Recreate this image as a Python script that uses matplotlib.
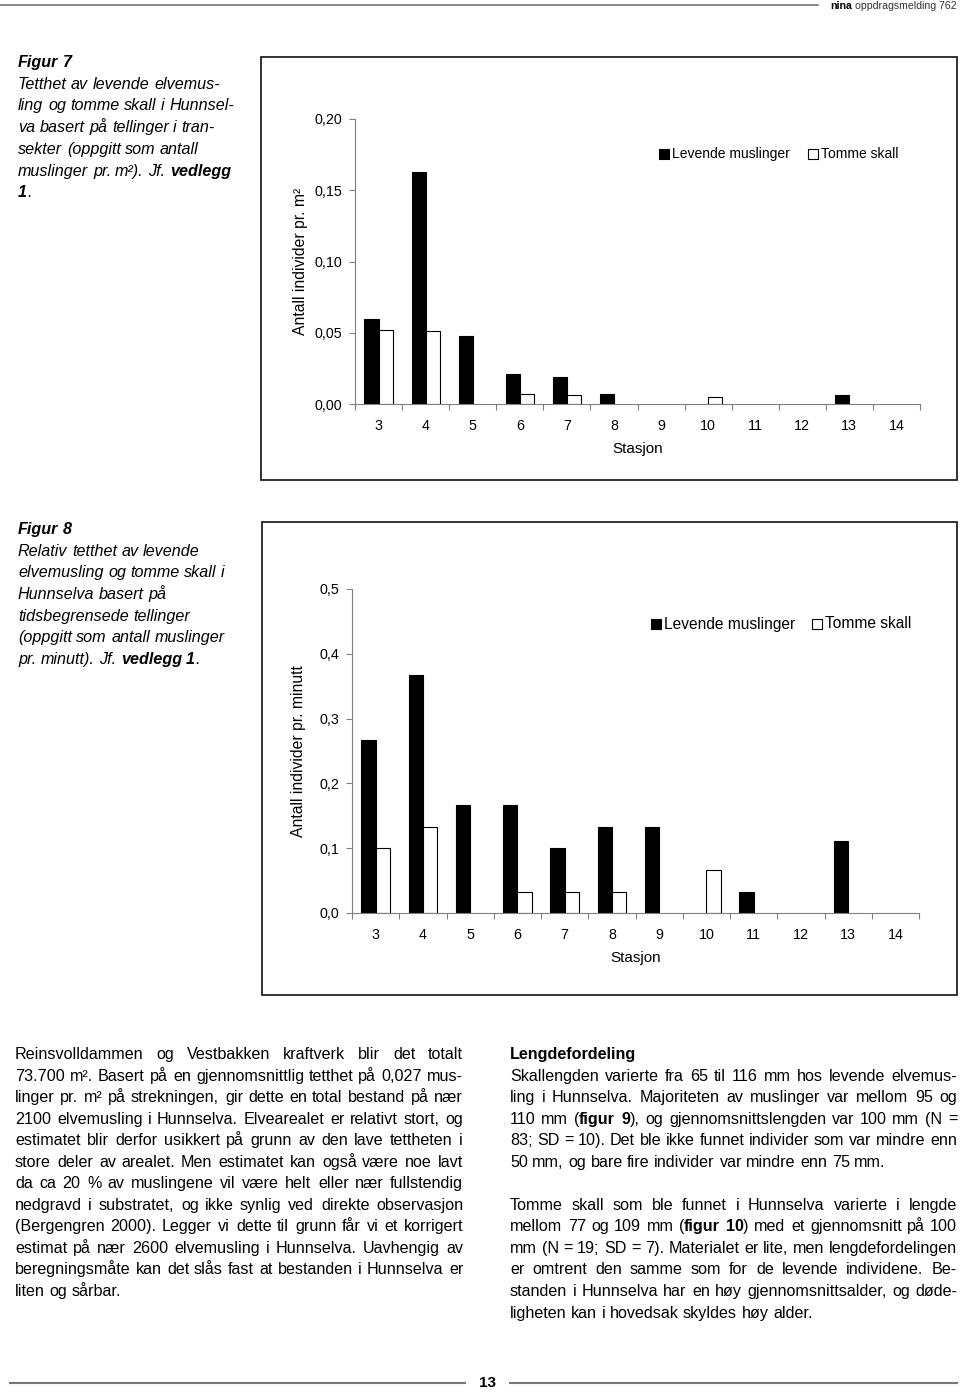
import matplotlib
matplotlib.use("Agg")
import matplotlib.pyplot as plt
from matplotlib.patches import Rectangle
from matplotlib.lines import Line2D
import numpy as np

plt.rcParams['font.family'] = ['Liberation Sans', 'DejaVu Sans']
plt.rcParams['text.hinting'] = 'auto'

W, H = 960, 1392

# data
stasjoner = [3, 4, 5, 6, 7, 8, 9, 10, 11, 12, 13, 14]
levende_m2 = [0.060, 0.163, 0.048, 0.021, 0.019, 0.007, 0, 0, 0, 0, 0.006, 0]
tomme_m2 = [0.052, 0.051, 0, 0.007, 0.006, 0, 0, 0.005, 0, 0, 0, 0]
levende_min = [0.267, 0.367, 0.167, 0.167, 0.100, 0.133, 0.133, 0, 0.033, 0, 0.111, 0]
tomme_min = [0.100, 0.133, 0, 0.033, 0.033, 0.033, 0, 0.067, 0, 0, 0, 0]
yticks_m2 = [0, 0.05, 0.10, 0.15, 0.20]
yticks_min = [0, 0.1, 0.2, 0.3, 0.4, 0.5]
legend_labels = ["Levende muslinger", "Tomme skall"]

caption7 = ["*Figur 7*",
            "Tetthet av levende elvemus-",
            "ling og tomme skall i Hunnsel-",
            "va basert på tellinger i tran-",
            "sekter (oppgitt som antall",
            "muslinger pr. m²). Jf. *vedlegg*",
            "*1*."]
caption8 = ["*Figur 8*",
            "Relativ tetthet av levende",
            "elvemusling og tomme skall i",
            "Hunnselva basert på",
            "tidsbegrensede tellinger",
            "(oppgitt som antall muslinger",
            "pr. minutt). Jf. *vedlegg 1*."]

left_col = ["Reinsvolldammen og Vestbakken kraftverk blir det totalt",
            "73.700 m². Basert på en gjennomsnittlig tetthet på 0,027 mus-",
            "linger pr. m² på strekningen, gir dette en total bestand på nær",
            "2100 elvemusling i Hunnselva. Elvearealet er relativt stort, og",
            "estimatet blir derfor usikkert på grunn av den lave tettheten i",
            "store deler av arealet. Men estimatet kan også være noe lavt",
            "da ca 20 % av muslingene vil være helt eller nær fullstendig",
            "nedgravd i substratet, og ikke synlig ved direkte observasjon",
            "(Bergengren 2000). Legger vi dette til grunn får vi et korrigert",
            "estimat på nær 2600 elvemusling i Hunnselva. Uavhengig av",
            "beregningsmåte kan det slås fast at bestanden i Hunnselva er",
            "liten og sårbar."]
right_col = ["*Lengdefordeling*",
             "Skallengden varierte fra 65 til 116 mm hos levende elvemus-",
             "ling i Hunnselva. Majoriteten av muslinger var mellom 95 og",
             "110 mm (*figur 9*), og gjennomsnittslengden var 100 mm (N =",
             "83; SD = 10). Det ble ikke funnet individer som var mindre enn",
             "50 mm, og bare fire individer var mindre enn 75 mm.",
             "",
             "Tomme skall som ble funnet i Hunnselva varierte i lengde",
             "mellom 77 og 109 mm (*figur 10*) med et gjennomsnitt på 100",
             "mm (N = 19; SD = 7). Materialet er lite, men lengdefordelingen",
             "er omtrent den samme som for de levende individene. Be-",
             "standen i Hunnselva har en høy gjennomsnittsalder, og døde-",
             "ligheten kan i hovedsak skyldes høy alder."]

fig = plt.figure(figsize=(W / 100, H / 100), dpi=100)
renderer = fig.canvas.get_renderer()


def fx(x):
    return x / W


def fy(y):
    return 1 - y / H


def split_pieces(word, bold):
    pieces, cur = [], ''
    for ch in word:
        if ch == '*':
            if cur:
                pieces.append((cur, bold))
            cur = ''
            bold = not bold
        else:
            cur += ch
    if cur:
        pieces.append((cur, bold))
    return pieces, bold


def text_line(x0, x1, y, line, size, justify, style='normal'):
    # y is the baseline in pixels from the top
    if not line:
        return
    bold = False
    words = []
    for w in line.split(' '):
        pieces, bold = split_pieces(w, bold)
        arts = []
        for s, b in pieces:
            t = fig.text(0, 0, s, fontsize=size, style=style,
                         weight='bold' if b else 'normal', va='baseline')
            arts.append((t, t.get_window_extent(renderer).width))
        words.append(arts)
    probe1 = fig.text(0, 0, 'a a', fontsize=size)
    probe2 = fig.text(0, 0, 'aa', fontsize=size)
    space = probe1.get_window_extent(renderer).width - probe2.get_window_extent(renderer).width
    probe1.remove()
    probe2.remove()
    widths = [sum(w for _, w in arts) for arts in words]
    gap = space
    if justify and len(words) > 1:
        gap = (x1 - x0 - sum(widths)) / (len(words) - 1)
    x = x0
    for arts, ww in zip(words, widths):
        xx = x
        for t, w in arts:
            t.set_position((fx(round(xx)), fy(round(y))))
            xx += w
        x += ww + gap


def chart(box, axrect, lev, tom, yticks, fmt, ylabel, legend_x, legend_y, legend_size):
    bx0, by0, bx1, by1 = box
    fig.patches.append(Rectangle((fx(bx0), fy(by1)), fx(bx1 - bx0), (by1 - by0) / H,
                                 transform=fig.transFigure, fill=False,
                                 edgecolor='#222222', linewidth=1.3))
    l, t, r, b = axrect
    ax = fig.add_axes([fx(l), fy(b), (r - l) / W, (b - t) / H])
    x = np.array(stasjoner)
    lev = np.array(lev)
    tom = np.array(tom)
    m1 = lev > 0
    m2 = tom > 0
    ax.bar(x[m1] - 0.15, lev[m1], width=0.3, color='black', edgecolor='black', linewidth=0.8)
    ax.bar(x[m2] + 0.15, tom[m2], width=0.3, color='white', edgecolor='black', linewidth=0.8)
    ax.set_xlim(2.5, 14.5)
    ax.set_ylim(0, yticks[-1])
    ax.set_yticks(yticks)
    ax.set_yticklabels([(fmt % v).replace('.', ',') for v in yticks])
    ax.set_xticks(stasjoner)
    ax.set_xticklabels([str(s) for s in stasjoner])
    ax.set_xticks(np.arange(2.5, 15, 1), minor=True)
    for s in ['top', 'right']:
        ax.spines[s].set_visible(False)
    for s in ['left', 'bottom']:
        ax.spines[s].set_color('#808080')
        ax.spines[s].set_linewidth(0.8)
    ax.tick_params(axis='y', direction='out', length=4, width=0.8, color='#808080',
                   labelsize=10.3, pad=5)
    ax.tick_params(axis='x', which='major', length=0, labelsize=10.3, pad=11)
    ax.tick_params(axis='x', which='minor', direction='out', length=4, width=0.8,
                   color='#808080')
    ax.patch.set_alpha(0)
    fig.text(fx(l - 54), fy((t + b) / 2), ylabel, rotation=90, ha='center', va='center',
             fontsize=11.3)
    fig.text(fx((l + r) / 2), fy(b + 45), "Stasjon", ha='center', va='center', fontsize=11)
    # legend
    lx, ly = legend_x
    fig.patches.append(Rectangle((fx(lx), fy(legend_y + 5)), 10 / W, 10 / H,
                                 transform=fig.transFigure, facecolor='black',
                                 edgecolor='black', linewidth=0.8))
    fig.text(fx(lx + 13), fy(legend_y), legend_labels[0], va='center', fontsize=legend_size)
    fig.patches.append(Rectangle((fx(ly), fy(legend_y + 5)), 10 / W, 10 / H,
                                 transform=fig.transFigure, facecolor='white',
                                 edgecolor='black', linewidth=0.8))
    fig.text(fx(ly + 13), fy(legend_y), legend_labels[1], va='center', fontsize=legend_size)
    return ax


chart((261, 57, 957, 480), (355, 119, 920, 404), levende_m2, tomme_m2, yticks_m2, '%.2f',
      "Antall individer pr. m²", (659, 808), 154, 10)
chart((262, 522, 957, 995), (352, 589, 919, 913), levende_min, tomme_min, yticks_min, '%.1f',
      "Antall individer pr. minutt", (651, 812), 624, 11.2)

# captions
for i, line in enumerate(caption7):
    text_line(18, 240, 67 + i * 21.7, line, 11.6, False, style='italic')
for i, line in enumerate(caption8):
    text_line(18, 240, 534 + i * 21.7, line, 11.6, False, style='italic')

# body text
for i, line in enumerate(left_col):
    text_line(15, 463, 1059 + i * 21.55, line, 11.6, i < len(left_col) - 1)
right_last = {0, 5, 6, 12}
for i, line in enumerate(right_col):
    text_line(510, 957, 1059 + i * 21.55, line, 11.6, i not in right_last)

# header and footer
fig.add_artist(Line2D([0, fx(818)], [fy(5), fy(5)], color='#777777', linewidth=1.2))
t2 = fig.text(fx(957), fy(9), "oppdragsmelding 762", fontsize=7.6, ha='right', va='baseline',
              color='#333333')
w2 = t2.get_window_extent(renderer).width
fig.text(fx(957 - w2 - 3), fy(9), "nina", fontsize=7.6, weight='bold', ha='right',
         va='baseline')
fig.add_artist(Line2D([fx(10), fx(465)], [fy(1383), fy(1383)], color='#777777', linewidth=1.5))
fig.add_artist(Line2D([fx(510), fx(957)], [fy(1383), fy(1383)], color='#777777', linewidth=1.5))
fig.text(fx(487), fy(1383), "13", fontsize=11, weight='bold', ha='center', va='center')

fig.savefig("out.png", dpi=100)
